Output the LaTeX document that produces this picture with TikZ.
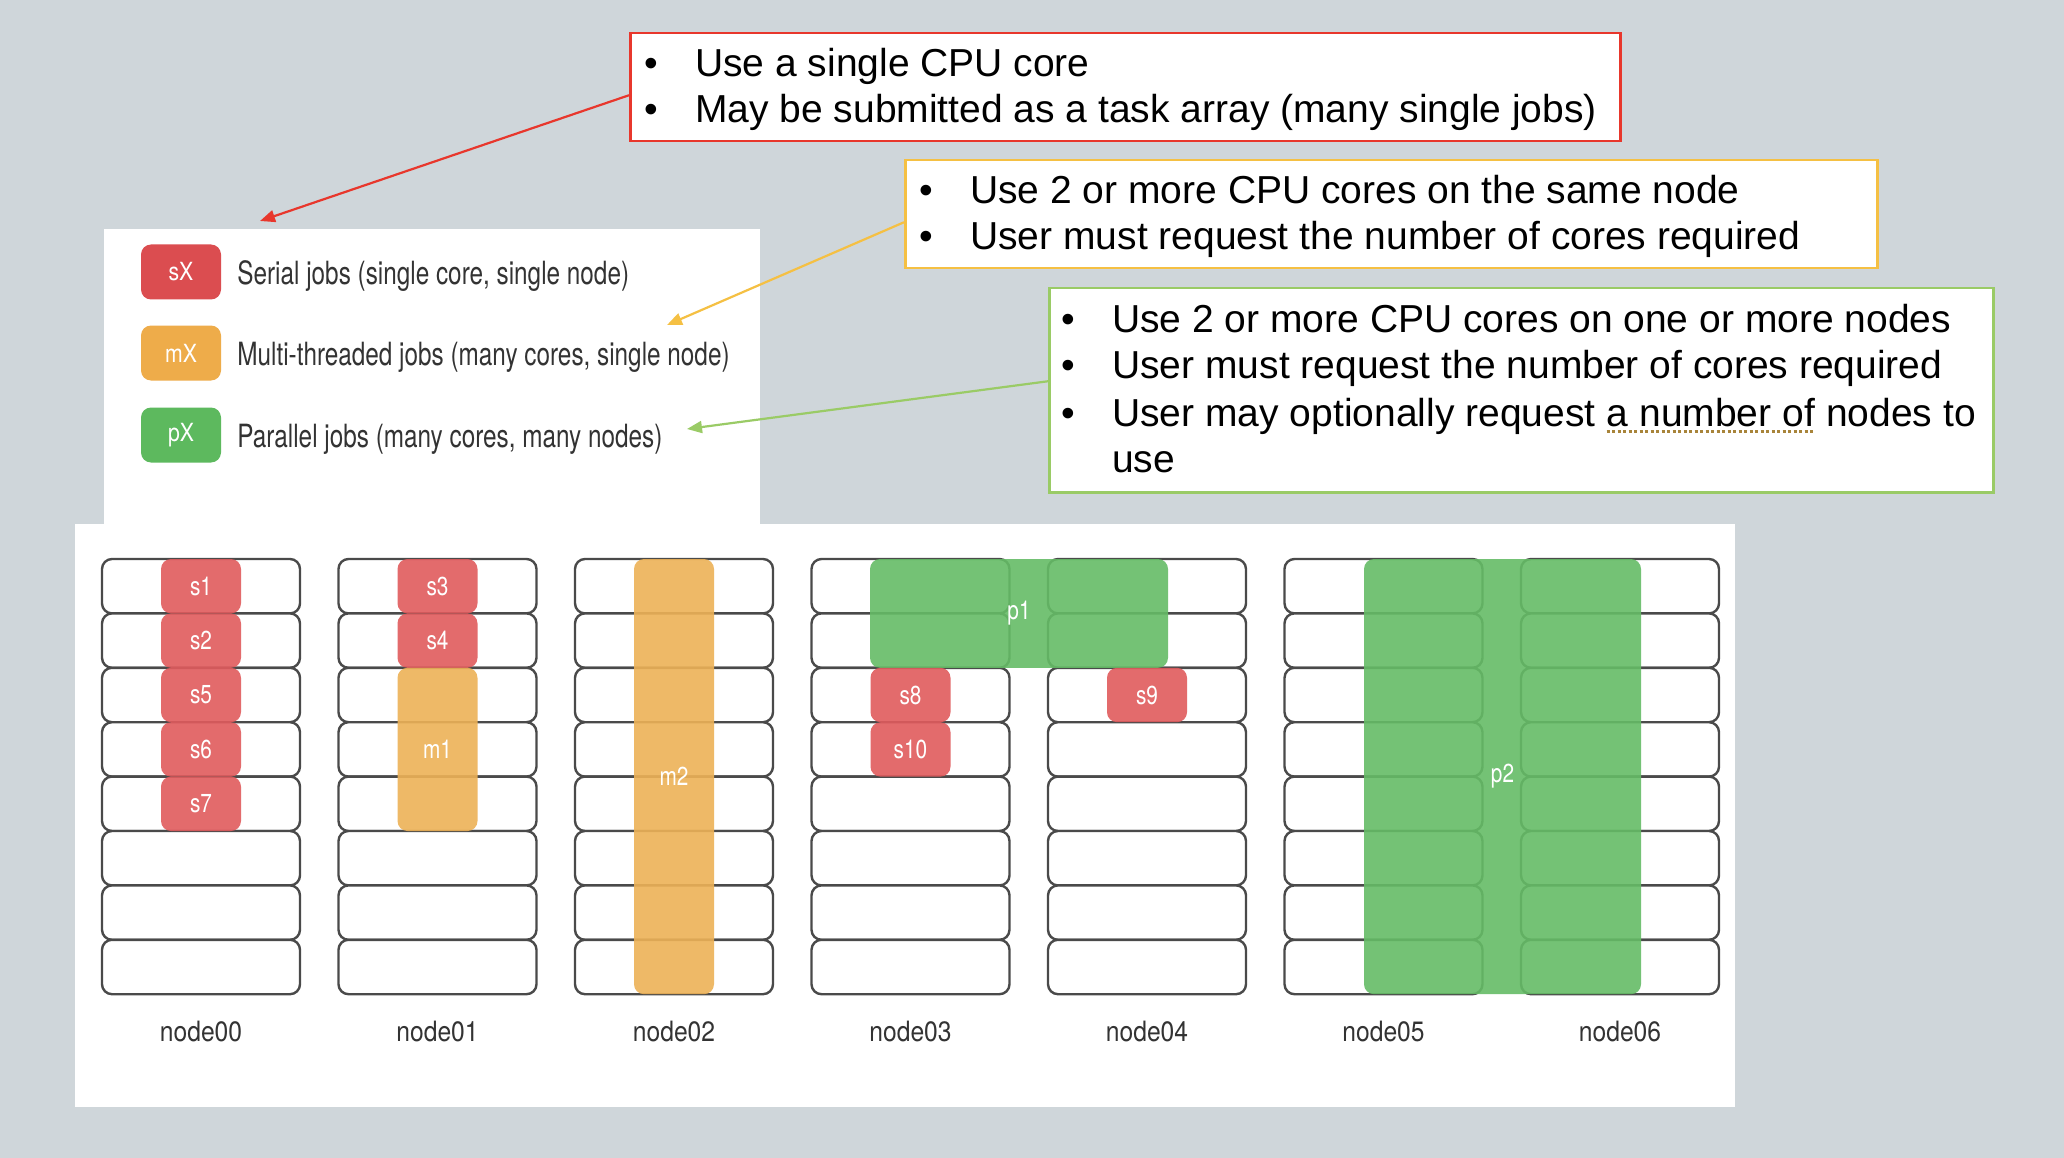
\documentclass[tikz,border=0pt]{standalone}
\usepackage{fontspec}
\setmainfont{Liberation Sans}
\newfontfamily\helv{TeX Gyre Heros}
\usepackage{graphicx}
\usetikzlibrary{arrows.meta,positioning}

\definecolor{slidebg}{HTML}{CFD6DA}
\definecolor{serialred}{HTML}{E05B5D}
\definecolor{threadorange}{HTML}{EDB257}
\definecolor{parallelgreen}{HTML}{65BC66}
\definecolor{legred}{HTML}{DB4D50}
\definecolor{legorange}{HTML}{EEAC4A}
\definecolor{leggreen}{HTML}{5DB95E}
\definecolor{boxred}{HTML}{E8372C}
\definecolor{boxyellow}{HTML}{F5C043}
\definecolor{boxgreen}{HTML}{9ACB66}
\definecolor{rowline}{HTML}{4A4A4A}
\definecolor{legtext}{HTML}{333333}
\definecolor{spellmark}{HTML}{A8843A}

\newcommand{\squeezed}[2][0.8]{\scalebox{#1}[1]{#2}}
\newcommand{\bul}{\llap{\textbullet\hskip 37pt}}
\newcommand{\boxfont}{\fontsize{39}{46}\selectfont}

\tikzset{
  calloutbox/.style={draw=#1, line width=2.5pt, fill=white, inner sep=0pt, anchor=north west},
  bullettext/.style={anchor=base west, inner sep=0pt, font=\boxfont},
  pointer/.style={draw=#1, line width=2.2pt, -{Triangle[length=15pt, width=12pt, fill=#1]}},
  corerow/.style={draw=rowline, line width=2.4pt, fill=white, rounded corners=10pt},
  job/.style={fill=#1, fill opacity=0.9, text opacity=1, text=white, rounded corners=10pt,
    inner sep=0pt, minimum width=80pt, minimum height=54.4pt, font=\helv\fontsize{26}{30}\selectfont},
  pill/.style={fill=#1, text=white, rounded corners=10pt, inner sep=0pt,
    minimum width=80pt, minimum height=55pt, font=\helv\fontsize{25}{30}\selectfont},
  legitem/.style={anchor=west, inner sep=0pt, text=legtext, font=\helv\fontsize{32}{38}\selectfont},
  hostlabel/.style={anchor=base, inner sep=0pt, text=legtext, font=\helv\fontsize{28}{32}\selectfont}
}

\begin{document}
\begin{tikzpicture}[x=1pt, y=-1pt]
  \fill[slidebg] (0,0) rectangle (2064,1158);
  % white panels
  \fill[white] (104,229) rectangle (760,524);
  \fill[white] (75,524) rectangle (1735,1107);

  % legend
  \node[pill=legred] (sleg) at (181,272) {\squeezed[0.85]{sX}};
  \node[pill=legorange] (mleg) at (181,353) {\squeezed[0.85]{mX}};
  \node[pill=leggreen] (pleg) at (181,435) {\squeezed[0.85]{pX}};
  \node[legitem, right=16pt of sleg, yshift=-4pt] (stext) {\squeezed[0.76]{Serial jobs (single core, single node)}};
  \node[legitem, right=16pt of mleg, yshift=-4pt] (mtext) {\squeezed[0.76]{Multi-threaded jobs (many cores, single node)}};
  \node[legitem, right=16pt of pleg, yshift=-4pt] (ptext) {\squeezed[0.76]{Parallel jobs (many cores, many nodes)}};

  % cores of each host
  \foreach \n in {0,...,6}
    \foreach \r in {0,...,7}
      \draw[corerow] ({102+236.5*\n},{559+54.4*\r}) rectangle +(198,54.4);

  % jobs
  \node[job=serialred] (s1) at (201,586.2) {\squeezed{s1}};
  \node[job=serialred] (s2) at (201,640.6) {\squeezed{s2}};
  \node[job=serialred] (s5) at (201,695) {\squeezed{s5}};
  \node[job=serialred] (s6) at (201,749.4) {\squeezed{s6}};
  \node[job=serialred] (s7) at (201,803.8) {\squeezed{s7}};
  \node[job=serialred] (s3) at (437.5,586.2) {\squeezed{s3}};
  \node[job=serialred] (s4) at (437.5,640.6) {\squeezed{s4}};
  \node[job=threadorange, minimum height=163.2pt] (m1) at (437.5,749.4) {\squeezed{m1}};
  \node[job=threadorange, minimum height=435.2pt] (m2) at (674,776.6) {\squeezed{m2}};
  \node[job=parallelgreen, minimum width=298pt, minimum height=108.8pt] (p1) at (1019,613.4) {\squeezed{p1}};
  \node[job=serialred] (s8) at (910.5,695) {\squeezed{s8}};
  \node[job=serialred] (s10) at (910.5,749.4) {\squeezed{s10}};
  \node[job=serialred] (s9) at (1147,695) {\squeezed{s9}};
  \node[job=parallelgreen, minimum width=277pt, minimum height=435.2pt] (p2) at (1502.5,776.6) {\squeezed{p2}};

  % host names
  \foreach \n in {0,...,6}
    \node[hostlabel] (host\n) at ({201+236.5*\n},1041) {\squeezed[0.88]{node0\n}};

  % callouts
  \node[calloutbox=boxred, minimum width=990pt, minimum height=108pt] (serialbox) at (629,32) {};
  \node[bullettext] (ser1) at (695,77) {\bul Use a single CPU core};
  \node[bullettext] (ser2) at (695,123) {\bul May be submitted as a task array (many single jobs)};

  \node[calloutbox=boxyellow, minimum width=972pt, minimum height=108pt] (threadbox) at (904,159) {};
  \node[bullettext] (thr1) at (970,204) {\bul Use 2 or more CPU cores on the same node};
  \node[bullettext] (thr2) at (970,250) {\bul User must request the number of cores required};

  \node[calloutbox=boxgreen, minimum width=944pt, minimum height=204pt] (parbox) at (1048,287) {};
  \node[bullettext] (par1) at (1112,332) {\bul Use 2 or more CPU cores on one or more nodes};
  \node[bullettext] (par2) at (1112,378) {\bul User must request the number of cores required};
  \node[bullettext] (par3a) at (1112,426) {\bul User may optionally request\ \null};
  \node[bullettext] (par3b) at (par3a.base east) {a number of};
  \node[bullettext] (par3c) at (par3b.base east) {\null\ nodes to};
  \node[bullettext] (par4) at (1112,472) {use};
  \draw[spellmark, line width=3pt, dash pattern=on 3pt off 2.5pt]
    ([yshift=-5pt]par3b.base west) -- ([yshift=-5pt]par3b.base east);

  % pointers
  \coordinate (serialtip) at (260,221);
  \coordinate (threadtip) at (667,325);
  \coordinate (partip) at (687,429);
  \draw[pointer=boxred] ([yshift=-8pt]serialbox.west) -- (serialtip);
  \draw[pointer=boxyellow] ([yshift=-8pt]threadbox.west) -- (threadtip);
  \draw[pointer=boxgreen] ([yshift=9pt]parbox.west) -- (partip);
\end{tikzpicture}
\end{document}
